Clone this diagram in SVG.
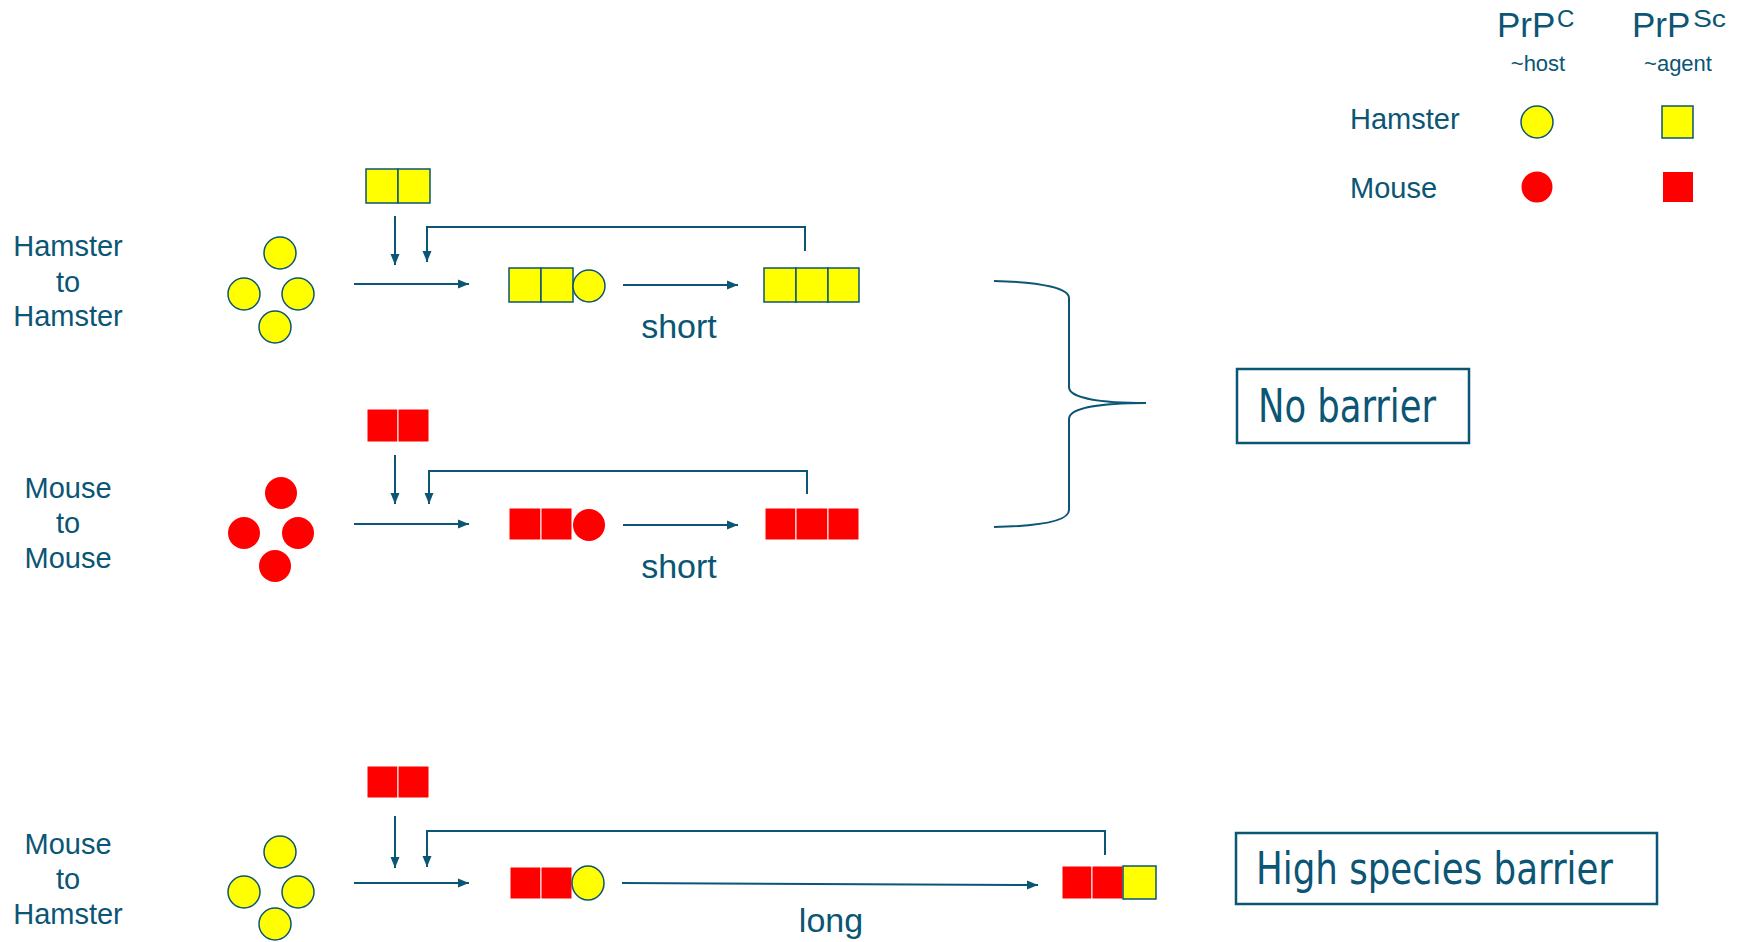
<svg xmlns="http://www.w3.org/2000/svg" width="1741" height="942" viewBox="0 0 1741 942">
  <style>
    .t { font-family: "Liberation Sans", Arial, sans-serif; fill: #0B5575; }
    .lbl { font-size: 29px; text-anchor: middle; }
    .cond { font-family: "Liberation Sans Narrow", "DejaVu Sans Condensed", "Liberation Sans", sans-serif; fill: #0B5575; }
    .ln { fill: none; stroke: #0B5575; stroke-width: 2; }
    .box { fill: #FFFFFF; stroke: #0B5575; stroke-width: 2.5; }
    .hc { fill: #FFFF00; stroke: #0B5575; stroke-width: 1.5; }
    .hs { fill: #FFFF00; stroke: #0B5575; stroke-width: 1.5; }
    .mc { fill: #FF0000; }
    .ms { fill: #FF0000; stroke: #FFFFFF; stroke-width: 1; }
  </style>
  <defs>
    <marker id="arr" markerUnits="userSpaceOnUse" markerWidth="12" markerHeight="12" viewBox="0 0 12 12" refX="11" refY="6" orient="auto">
      <path d="M0,1.5 L11,6 L0,10.5 Z" fill="#0B5575"/>
    </marker>
  </defs>
  <rect width="1741" height="942" fill="#FFFFFF"/>

  <!-- legend -->
  <g id="legend">
    <text class="t" x="1497" y="37" font-size="35">PrP</text>
    <text class="t" x="1557" y="27" font-size="24">C</text>
    <text class="t" x="1632" y="37" font-size="35">PrP</text>
    <text class="t" x="1693" y="27" font-size="24" textLength="33" lengthAdjust="spacingAndGlyphs">Sc</text>
    <text class="t" x="1538" y="71" font-size="22" text-anchor="middle">~host</text>
    <text class="t" x="1678" y="71" font-size="22" text-anchor="middle">~agent</text>
    <text class="t" x="1350" y="129" font-size="29">Hamster</text>
    <text class="t" x="1350" y="198" font-size="29">Mouse</text>
    <circle class="hc" cx="1537" cy="122" r="16"/>
    <rect class="hs" x="1662" y="106" width="31" height="32"/>
    <circle class="mc" cx="1537" cy="187" r="15.5"/>
    <rect class="mc" x="1663" y="172" width="30" height="30"/>
  </g>

  <!-- row 1: hamster to hamster -->
  <g id="row-hamster-hamster">
    <text class="t lbl" x="68" y="256">Hamster</text>
    <text class="t lbl" x="68" y="292">to</text>
    <text class="t lbl" x="68" y="326">Hamster</text>
    <circle class="hc" cx="280" cy="253" r="16"/>
    <circle class="hc" cx="244" cy="294" r="16"/>
    <circle class="hc" cx="298" cy="294" r="16"/>
    <circle class="hc" cx="275" cy="327" r="16"/>
    <rect class="hs" x="366" y="169" width="32" height="34"/>
    <rect class="hs" x="398" y="169" width="32" height="34"/>
    <rect class="hs" x="509" y="268" width="32" height="34"/>
    <rect class="hs" x="541" y="268" width="32" height="34"/>
    <circle class="hc" cx="589" cy="286" r="16"/>
    <rect class="hs" x="764" y="268" width="32" height="34"/>
    <rect class="hs" x="796" y="268" width="32" height="34"/>
    <rect class="hs" x="828" y="268" width="31" height="34"/>
    <text class="t" x="679" y="338" font-size="34" text-anchor="middle">short</text>
  </g>

  <!-- row 2: mouse to mouse -->
  <g id="row-mouse-mouse">
    <text class="t lbl" x="68" y="498">Mouse</text>
    <text class="t lbl" x="68" y="533">to</text>
    <text class="t lbl" x="68" y="568">Mouse</text>
    <circle class="mc" cx="281" cy="493" r="16"/>
    <circle class="mc" cx="244" cy="533" r="16"/>
    <circle class="mc" cx="298" cy="533" r="16"/>
    <circle class="mc" cx="275" cy="566" r="16"/>
    <rect class="ms" x="367" y="409" width="31" height="33"/>
    <rect class="ms" x="398" y="409" width="31" height="33"/>
    <rect class="ms" x="509" y="508" width="32" height="32"/>
    <rect class="ms" x="541" y="508" width="31" height="32"/>
    <circle class="mc" cx="589" cy="525" r="16"/>
    <rect class="ms" x="765" y="508" width="31" height="32"/>
    <rect class="ms" x="796" y="508" width="32" height="32"/>
    <rect class="ms" x="828" y="508" width="31" height="32"/>
    <text class="t" x="679" y="578" font-size="34" text-anchor="middle">short</text>
  </g>

  <!-- row 3: mouse to hamster -->
  <g id="row-mouse-hamster">
    <text class="t lbl" x="68" y="854">Mouse</text>
    <text class="t lbl" x="68" y="889">to</text>
    <text class="t lbl" x="68" y="924">Hamster</text>
    <circle class="hc" cx="280" cy="852" r="16"/>
    <circle class="hc" cx="244" cy="892" r="16"/>
    <circle class="hc" cx="298" cy="892" r="16"/>
    <circle class="hc" cx="275" cy="924" r="16"/>
    <rect class="ms" x="367" y="766" width="31" height="32"/>
    <rect class="ms" x="398" y="766" width="31" height="32"/>
    <rect class="ms" x="510" y="867" width="31" height="32"/>
    <rect class="ms" x="541" y="867" width="31" height="32"/>
    <ellipse class="hc" cx="588" cy="883" rx="16" ry="17"/>
    <rect class="ms" x="1062" y="866" width="30" height="33"/>
    <rect class="ms" x="1092" y="866" width="31" height="33"/>
    <rect class="hs" x="1123" y="866" width="33" height="33"/>
    <text class="t" x="831" y="932" font-size="34" text-anchor="middle">long</text>
  </g>

  <!-- connectors -->
  <g id="connectors" class="ln">
    <line x1="395" y1="216" x2="395" y2="265" marker-end="url(#arr)"/>
    <polyline points="805,251 805,227 427,227 427,262" marker-end="url(#arr)"/>
    <line x1="354" y1="284" x2="469" y2="284" marker-end="url(#arr)"/>
    <line x1="623" y1="285" x2="738" y2="285" marker-end="url(#arr)"/>

    <line x1="395" y1="455" x2="395" y2="504" marker-end="url(#arr)"/>
    <polyline points="807,494 807,471 429,471 429,504" marker-end="url(#arr)"/>
    <line x1="354" y1="524" x2="469" y2="524" marker-end="url(#arr)"/>
    <line x1="623" y1="525" x2="738" y2="525" marker-end="url(#arr)"/>

    <line x1="395" y1="816" x2="395" y2="868" marker-end="url(#arr)"/>
    <polyline points="1105,855 1105,831 427,831 427,867" marker-end="url(#arr)"/>
    <line x1="354" y1="883" x2="469" y2="883" marker-end="url(#arr)"/>
    <line x1="622" y1="883" x2="1038" y2="885" marker-end="url(#arr)"/>

    <path d="M994,281 C1045,282 1069,289 1069,298 L1069,387 C1069,398 1100,403 1146,403 C1100,403 1069,408 1069,419 L1069,510 C1069,520 1045,526 994,527"/>
  </g>

  <!-- outcome boxes -->
  <g id="no-barrier">
    <rect class="box" x="1237" y="369" width="232" height="74"/>
    <text class="cond" x="1258" y="422" font-size="47" textLength="178" lengthAdjust="spacingAndGlyphs">No barrier</text>
  </g>
  <g id="high-barrier">
    <rect class="box" x="1236" y="833" width="421" height="71"/>
    <text class="cond" x="1256" y="884" font-size="45" textLength="357" lengthAdjust="spacingAndGlyphs">High species barrier</text>
  </g>
</svg>
